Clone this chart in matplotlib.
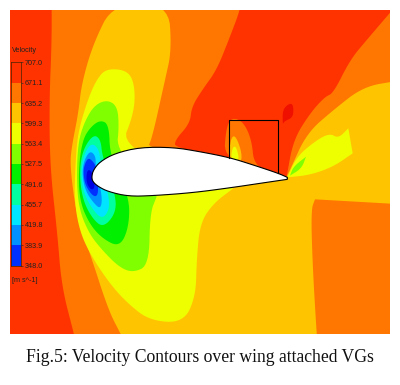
import matplotlib
matplotlib.use('Agg')
import matplotlib.pyplot as plt
import numpy as np
from matplotlib.patches import Rectangle

# Colours of the velocity bands
C_RED    = '#FF3300'
C_ORANGE = '#FF7700'
C_AMBER  = '#FFC400'
C_YELLOW = '#EEFF00'
C_LIME   = '#80FF00'
C_GREEN  = '#00F000'
C_AQUA   = '#00FFA0'
C_CYAN   = '#00E5FF'
C_SKY    = '#0090FF'
C_BLUE   = '#0030FF'
C_CORE   = '#0000E0'

# Legend
levels = [707.0, 671.1, 635.2, 599.3, 563.4, 527.5, 491.6, 455.7, 419.8, 383.9, 348.0]
level_colors = [C_RED, C_ORANGE, C_AMBER, C_YELLOW, C_LIME, C_GREEN, C_AQUA, C_CYAN, C_SKY, C_BLUE]

# Contour outlines at 3x pixel scale
# points outside the panel get clipped, doubled points stay sharp when smoothed
orange = [(155, 10), (155, 10), (720, 10), (720, 30), (690, 110), (650, 210), (610, 265), (575, 320), (570, 370), (525, 420),
          (525, 445), (860, 530), (860, 530), (880, 420), (930, 340), (975, 290), (1000, 280), (1050, 180),
          (1100, 120), (1190, 15), (1190, 15), (1190, 1020), (1190, 1020), (225, 1020), (222, 1002), (185, 860), (172, 700), (150, 500),
          (148, 300), (155, 130)]
amber = [(340, 10), (505, 10), (515, 150), (495, 240), (455, 420), (440, 445), (860, 530), (860, 530), (870, 510),
         (920, 400), (1000, 330), (1090, 260), (1190, 243), (1190, 243), (1190, 612), (1190, 612), (945, 598), (945, 598), (933, 630),
         (938, 800), (950, 1002), (952, 1020), (952, 1020), (372, 1020), (362, 1002), (325, 930), (270, 760), (230, 650), (210, 500),
         (215, 440), (235, 340), (245, 250), (280, 130)]
yellow = [(320, 205), (385, 212), (405, 260), (402, 340), (360, 445), (700, 565), (700, 565), (640, 610), (600, 670),
          (590, 780), (587, 890), (550, 968), (450, 962), (385, 912), (330, 852), (270, 762),
          (238, 690), (223, 600), (226, 500), (233, 400), (263, 300), (290, 238)]
yellow_wake = [(862, 532), (862, 532), (890, 470), (950, 420), (990, 400), (1015, 415), (1045, 385), (1045, 385), (1058, 460), (1058, 460),
               (1000, 500), (930, 525)]
lime = [(320, 299), (352, 318), (357, 380), (350, 450), (470, 590), (470, 590), (450, 640), (447, 795), (400, 818),
        (358, 802), (308, 752), (268, 702), (238, 630), (230, 550), (233, 440), (248, 378), (280, 318)]
lime_wake = [(870, 527), (870, 527), (880, 500), (918, 470), (918, 470), (905, 505)]
green = [(300, 360), (327, 373), (330, 470), (388, 590), (387, 680), (360, 741), (310, 718), (268, 672),
         (238, 600), (236, 500), (248, 420), (270, 383)]
aqua = [(280, 403), (302, 418), (307, 470), (347, 585), (347, 640), (310, 683), (278, 657), (248, 600),
        (238, 520), (248, 450)]
cyan = [(275, 428), (297, 448), (302, 490), (327, 590), (327, 632), (305, 658), (273, 622), (248, 570),
        (243, 510), (253, 460)]
sky = [(270, 452), (287, 468), (287, 500), (307, 590), (302, 628), (280, 608), (256, 572), (246, 520),
       (253, 480)]
blue = [(265, 472), (282, 488), (287, 500), (297, 580), (282, 593), (256, 557), (250, 520), (253, 495)]
core = [(262, 505), (280, 520), (285, 565), (272, 570), (258, 545)]
vg_orange = [(672, 478), (678, 385), (695, 352), (730, 365), (755, 420), (762, 495), (820, 522), (820, 522)]
vg_amber = [(686, 478), (692, 415), (706, 405), (725, 455), (724, 490)]
vg_yellow = [(692, 478), (698, 440), (709, 440), (719, 484)]
red_spot = [(848, 376), (848, 328), (868, 310), (880, 314), (880, 352), (852, 364)]
wing = [(275, 530), (280, 510), (300, 485), (345, 460), (420, 442), (520, 442), (600, 455), (690, 473),
        (760, 495), (835, 520), (862, 532), (862, 532), (862, 538), (862, 538), (780, 550), (700, 562), (580, 578), (460, 587),
        (385, 589), (325, 575), (295, 560), (278, 545)]
vg_box = [(688, 473), (688, 361), (833, 361), (833, 520)]

layers = [(orange, C_ORANGE), (amber, C_AMBER), (yellow, C_YELLOW), (yellow_wake, C_YELLOW),
          (lime, C_LIME), (lime_wake, C_LIME), (green, C_GREEN), (aqua, C_AQUA), (cyan, C_CYAN),
          (sky, C_SKY), (blue, C_BLUE), (core, C_CORE), (vg_orange, C_ORANGE), (vg_amber, C_AMBER),
          (vg_yellow, C_YELLOW), (red_spot, '#F01000')]

LABEL_COLOR = '#222222'


def smooth(pts, rounds=3):
    # corner cutting on a closed outline
    xy = np.array(pts, dtype=float)
    for _ in range(rounds):
        nxt = np.roll(xy, -1, axis=0)
        xy = np.column_stack([0.75 * xy + 0.25 * nxt, 0.25 * xy + 0.75 * nxt]).reshape(-1, 2)
    return xy


fig = plt.figure(figsize=(4.0, 3.85), dpi=100, facecolor='white')
ax = fig.add_axes([0, 0, 1, 1])
ax.set_xlim(0, 1200)
ax.set_ylim(1155, 0)
ax.axis('off')

panel = Rectangle((30, 30), 1140, 972, facecolor=C_RED, edgecolor='none')
ax.add_patch(panel)

for pts, col in layers:
    xy = smooth(pts)
    for poly in ax.fill(xy[:, 0], xy[:, 1], color=col, linewidth=0):
        poly.set_clip_path(panel)

xy = smooth(wing, rounds=2)
ax.fill(xy[:, 0], xy[:, 1], facecolor='white', edgecolor='black', linewidth=0.8)
ax.plot([p[0] for p in vg_box], [p[1] for p in vg_box], color='black', linewidth=0.8)

ax.text(35, 150, 'Velocity', fontsize=5.2, family='Liberation Sans', color=LABEL_COLOR, va='center', ha='left')
ax.text(35, 843, '[m s^-1]', fontsize=5.2, family='Liberation Sans', color=LABEL_COLOR, va='center', ha='left')
ax.text(601, 1074, 'Fig.5: Velocity Contours over wing attached VGs', fontsize=12.7,
        family='Liberation Serif', color='#111111', va='center', ha='center')

# Legend bar, on its own axes so the ticks come from the values
cax = fig.add_axes([33 / 1200, 1 - 797 / 1155, 29 / 1200, 610 / 1155])
for hi, lo, col in zip(levels[:-1], levels[1:], level_colors):
    cax.axhspan(lo, hi, color=col, linewidth=0)
cax.set_ylim(levels[-1], levels[0])
cax.set_xticks([])
cax.yaxis.tick_right()
cax.set_yticks(levels)
cax.set_yticklabels([f'{v:.1f}' for v in levels], fontsize=5.2, family='Liberation Sans', color=LABEL_COLOR)
cax.tick_params(axis='y', length=1.5, width=0.5, pad=1.5, color='#333333')
for spine in cax.spines.values():
    spine.set_linewidth(0.5)
    spine.set_edgecolor('#442200')

fig.savefig('out.png', dpi=100)
